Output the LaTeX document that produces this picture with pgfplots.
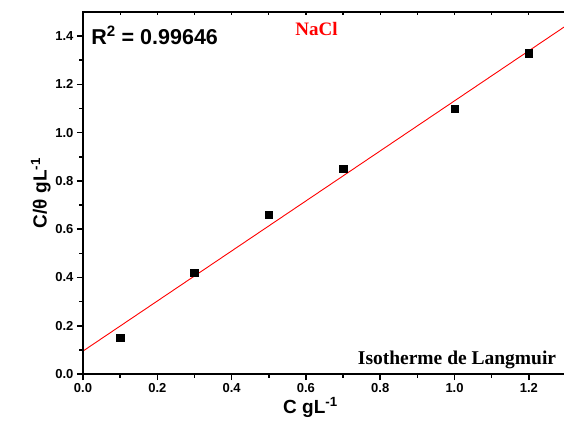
\documentclass[border=0pt]{standalone}
\usepackage{fontspec}
\setmainfont{Liberation Sans}
\newfontfamily\timesfont{Liberation Serif}
\usepackage{pgfplots}
\pgfplotsset{compat=1.18}
\begin{document}
\begin{tikzpicture}
\begin{axis}[
  name=ax,
  scale only axis, width=483pt, height=362pt,
  xmin=0, xmax=1.3, ymin=0, ymax=1.5,
  axis line style={line width=2.2pt, black},
  xtick pos=bottom, ytick pos=left,
  tick align=outside,
  xtick={0,0.2,...,1.2}, ytick={0,0.2,...,1.4},
  minor tick num=1,
  major tick length=6pt, minor tick length=3.5pt,
  tick style={line width=1.6pt, black},
  xticklabel={\pgfmathprintnumber[fixed,fixed zerofill,precision=1,assume math mode=true]{\tick}},
  yticklabel={\pgfmathprintnumber[fixed,fixed zerofill,precision=1,assume math mode=true]{\tick}},
  tick label style={font=\fontsize{13}{15}\selectfont\bfseries},
  xlabel={C gL\textsuperscript{-1}},
  ylabel={C/θ gL\textsuperscript{-1}},
  xlabel style={font=\fontsize{19}{21}\selectfont\bfseries, xshift=-14pt, yshift=2pt},
  ylabel style={font=\fontsize{19}{21}\selectfont\bfseries, yshift=-2pt},
]
\addplot[red, line width=0.9pt] coordinates {(0,0.095) (1.3,1.443)};
\addplot[only marks, mark=square*, mark size=3.8pt, black] coordinates {
  (0.1,0.15) (0.3,0.42) (0.5,0.66) (0.7,0.85) (1.0,1.10) (1.2,1.33)};
\node[anchor=base west, font=\fontsize{21.5}{23}\selectfont\bfseries] at (axis cs:0.013,1.366) {R\textsuperscript{2} = 0.99646};
\node[anchor=base west, text=red, font=\timesfont\fontsize{19}{21}\selectfont\bfseries] at (axis cs:0.562,1.404) {NaCl};
\node[anchor=base east, font=\timesfont\fontsize{19.5}{21}\selectfont\bfseries] at (axis cs:1.283,0.041) {Isotherme de Langmuir};
\end{axis}
\begin{axis}[
  scale only axis, width=483pt, height=362pt,
  xmin=0, xmax=1.3, ymin=0, ymax=1.5,
  axis line style={line width=2.2pt, black},
  xtick pos=top, ytick=\empty,
  tick align=inside,
  xtick={0,0.1,...,1.3}, xticklabels={},
  major tick length=3.5pt,
  tick style={line width=1.2pt, black},
]
\end{axis}
\pgfresetboundingbox
\path[use as bounding box] ([xshift=-83pt,yshift=-55pt]ax.south west) rectangle ([xshift=481pt,yshift=12pt]ax.north west);
\end{tikzpicture}
\end{document}
